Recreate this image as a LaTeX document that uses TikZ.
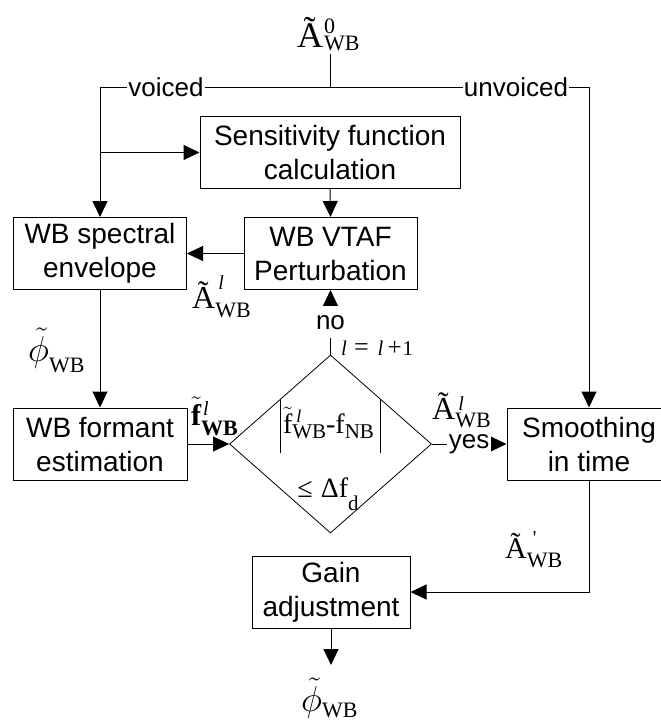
\RequirePackage{fix-cm}
\documentclass[tikz,border=0pt]{standalone}
\usepackage[no-math]{fontspec}
\setmainfont{Liberation Sans}
\newfontfamily\tms{Liberation Serif}
\usetikzlibrary{arrows.meta,shapes.geometric}

% base symbol with a superscript and a subscript stacked after it
\newcommand\stk[5]{{#1}\rlap{\raisebox{#4}{#2}}\raisebox{#5}{#3}}
\newcommand\fs[1]{\fontsize{#1}{#1}\selectfont}

\begin{document}
\begin{tikzpicture}[x=1pt,y=-1pt,
  ln/.style={line width=1pt},
  arr/.style={ln,-{Triangle[length=16pt,width=15pt]}},
  box/.style={draw,line width=1pt,minimum height=72pt,inner sep=0pt,
              align=center,font=\fontsize{28}{34}\selectfont},
  lab/.style={font=\fontsize{26}{26}\selectfont,inner sep=1pt,fill=white},
  sym/.style={inner sep=0pt,font=\tms},
]
\useasboundingbox (0,0) rectangle (661,726);
\clip (0,0) rectangle (661,726);
\fill[white] (0,0) rectangle (661,726);

% processing blocks
\node[box,minimum width=260pt] (sens)   at (330,152.5) {Sensitivity function\\calculation};
\node[box,minimum width=173pt] (env)    at (100,253.5) {WB spectral\\envelope};
\node[box,minimum width=173pt] (vtaf)   at (330.5,253.5) {WB VTAF\\Perturbation};
\node[box,minimum width=174pt] (form)   at (100,444) {WB formant\\estimation};
\node[draw,diamond,line width=0.8pt,minimum width=202pt,minimum height=178pt,
      inner sep=0pt] (dec) at (330.5,444) {};
\node[box,minimum width=164pt] (smooth) at (589,444) {Smoothing\\in time};
\node[box,minimum width=158pt] (gain)   at (331,592) {Gain\\adjustment};

% free ends of the connectors
\coordinate (split) at (330.5,87.5);
\coordinate (br) at (env.north |- sens.west);
\coordinate (out) at (331,665);

% input
\node[sym,anchor=base west] (a0) at (297,47)
  {\stk{\fs{36}Ã}{\fs{22}\kern1pt0}{\fs{22}\kern1pt WB}{14pt}{-3pt}};
\draw[ln,shorten <=3pt] (a0.south -| split) -- (split);

% voiced / unvoiced split
\draw[arr] (split) -| (env.north);
\draw[arr] (split) -| (smooth.north);
\node[lab] (voiced) at (166,87.5) {voiced};
\node[lab] (unvoiced) at (516,87.5) {unvoiced};

% iteration loop
\draw[arr] (br) -- (sens.west);
\draw[arr] (sens.south) -- (vtaf.north);
\draw[arr] (vtaf.west) -- (env.east);
\draw[arr] (env.south) -- (form.north);
\draw[arr] (form.east) -- (dec.west);
\draw[arr] (dec.north) -- node[lab,minimum height=32pt,inner sep=0pt] (no) {no} (vtaf.south);
\draw[arr] (dec.east) -- node[lab,inner xsep=2pt] (yes) {yes} (smooth.west);
\draw[arr] (smooth.south) |- (gain.east);
\draw[arr] (gain.south) -- (out);

% decision condition
\node[sym,anchor=base] (d1) at (330.5,433)
  {\rule[-20pt]{0.9pt}{53pt}\kern2pt\stk{\fs{28}$\tilde{\hbox{f}}$}{\fs{18}\itshape\kern4pt l}{\fs{21}WB}{11pt}{-5pt}%
   {\fs{28}-f}\raisebox{-5pt}{\fs{21}NB}\kern6pt\rule[-20pt]{0.9pt}{53pt}};
\node[sym,anchor=base] (d2) at (328,497)
  {\fs{28}≤\kern8pt Δf\raisebox{-13pt}{\fs{21}d}};
\node[sym,anchor=base west] (inc) at (341,355)
  {\fs{21}\textit{l}\kern7pt{\fs{26}=}\kern9pt\textit{l}\kern4pt{\fs{25}+}\kern1pt1};

% signal labels
\node[sym,anchor=base west] (al) at (192,308)
  {\stk{\fs{32}Ã}{\fs{20}\itshape\kern3pt l}{\fs{22}WB}{19pt}{-9pt}};
\node[sym,anchor=base west] (ar) at (432,419)
  {\stk{\fs{32}Ã}{\fs{20}\itshape\kern3pt l}{\fs{22}WB}{9pt}{-8pt}};
\node[sym,anchor=base west] (ap) at (505,558)
  {\stk{\fs{30}Ã}{\fs{20}\kern6pt\textquotesingle}{\fs{22}WB}{14pt}{-9pt}};
\node[sym,anchor=base west] (fl) at (191,425)
  {\stk{\fs{30}\bfseries$\tilde{\hbox{f}}$}{\fs{20}\itshape\kern2pt l}{\fs{22}\bfseries WB}{10pt}{-10pt}};
\node[sym,anchor=base west] (phl) at (28,361)
  {\stk{\fs{36}$\tilde{\phi}$}{}{\fs{22}WB}{0pt}{-11pt}};
\node[sym,anchor=base west] (phb) at (301,711)
  {\stk{\fs{36}$\tilde{\phi}$}{}{\fs{22}WB}{0pt}{-6pt}};
\end{tikzpicture}
\end{document}
